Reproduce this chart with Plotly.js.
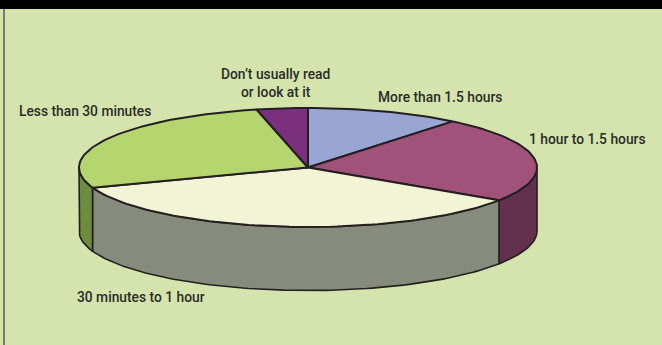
<!DOCTYPE html>
<html>
<head>
<meta charset="utf-8">
<script src="https://cdn.plot.ly/plotly-3.0.1.min.js"></script>
<style>html,body{margin:0;padding:0;background:#d4e4ac}#chart{width:662px;height:345px}</style>
</head>
<body>
<div id="chart"></div>
<script>
// Time spent reading, drawn as a tilted pie with a visible rim.
const categories = ["More than 1.5 hours", "1 hour to 1.5 hours", "30 minutes to 1 hour", "Less than 30 minutes", "Don’t usually read<br>or look at it"];
const shares = [10.9, 23.4, 35.2, 26.9, 3.6];
const topColors = ["#99a5d3", "#a0527a", "#f3f3d6", "#b5d66f", "#7b2f7f"];
const rimColors = ["#6f7896", "#63304e", "#868c7d", "#6e8c3f", "#55205a"];
const labelX = [376, 527, 75, 17, 275];
const labelY = [96.5, 138.5, 296.5, 110.5, 83];
const labelAnchor = ["left", "left", "left", "left", "center"];

const cx = 308, cy = 167.5, rx = 229, ry = 59.5, depth = 63.5;
const outline = "#231f20";

// Angle runs clockwise from twelve o'clock, in degrees.
const px = a => cx + rx * Math.sin(a * Math.PI / 180);
const py = a => cy - ry * Math.cos(a * Math.PI / 180);
function arc(a0, a1) {
  const n = Math.max(2, Math.ceil(Math.abs(a1 - a0) / 1.5));
  return Array.from({length: n + 1}, (_, i) => a0 + (a1 - a0) * i / n);
}

const total = shares.reduce((s, v) => s + v, 0);
let cursor = 0;
const rims = [], tops = [];
categories.forEach((name, i) => {
  const a0 = cursor, a1 = cursor + shares[i] / total * 360;
  cursor = a1;
  const plain = name.replace("<br>", " ");
  // Top face of the slice.
  const t = arc(a0, a1);
  tops.push({
    type: "scatter", mode: "lines", fill: "toself", fillcolor: topColors[i], name: plain,
    x: [cx, ...t.map(px), cx], y: [cy, ...t.map(py), cy],
    line: {color: outline, width: 2, shape: "linear"}, hoverinfo: "name", showlegend: false
  });
  // The rim only shows along the front half of the ellipse.
  const r0 = Math.max(a0, 90), r1 = Math.min(a1, 270);
  if (r1 > r0) {
    const r = arc(r0, r1), back = [...r].reverse();
    rims.push({
      type: "scatter", mode: "lines", fill: "toself", fillcolor: rimColors[i], name: plain,
      x: [...r.map(px), ...back.map(px), px(r0)],
      y: [...r.map(py), ...back.map(a => py(a) + depth), py(r0)],
      line: {color: outline, width: 1.6}, hoverinfo: "name", showlegend: false
    });
  }
});

const annotations = categories.map((name, i) => ({
  text: name, x: labelX[i], y: labelY[i], xref: "x", yref: "y",
  xanchor: labelAnchor[i], yanchor: "middle", align: "center", showarrow: false,
  font: {family: "Roboto, 'Liberation Sans', sans-serif", size: 13.8, weight: 500, color: "#2b2b2b"}
}));

const hidden = {visible: false, fixedrange: true, showgrid: false, zeroline: false};
Plotly.newPlot("chart", [...rims, ...tops], {
  width: 662, height: 345,
  margin: {l: 0, r: 0, t: 0, b: 0},
  paper_bgcolor: "#d4e4ac", plot_bgcolor: "#d4e4ac",
  xaxis: {...hidden, range: [0, 662]},
  yaxis: {...hidden, range: [345, 0]},
  showlegend: false,
  annotations,
  shapes: [
    {type: "rect", xref: "paper", yref: "paper", x0: 0, x1: 1, y0: 1, y1: 1 - 9 / 345, fillcolor: "#000000", line: {width: 0}},
    {type: "line", xref: "x", yref: "paper", x0: 4, x1: 4, y0: 0, y1: 1 - 9 / 345, line: {color: "#5a5a5a", width: 1.5}}
  ]
}, {displayModeBar: false});
</script>
</body>
</html>
